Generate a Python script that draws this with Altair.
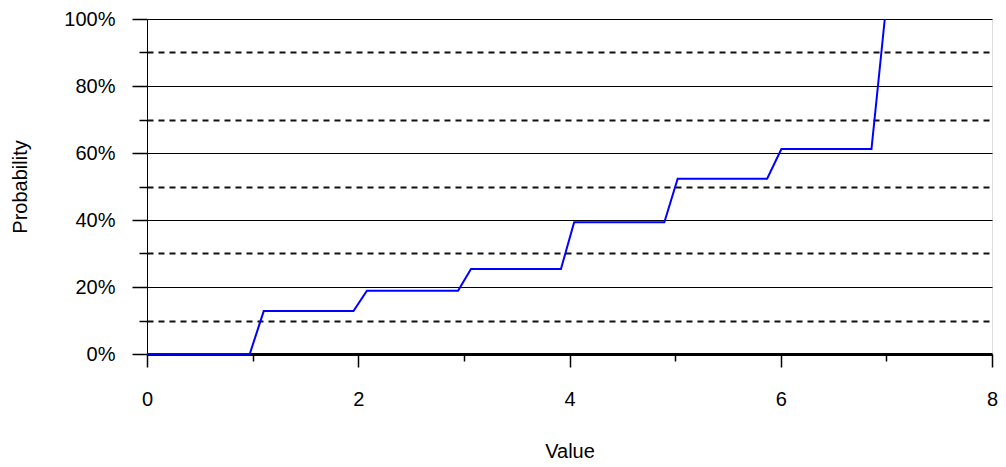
import altair as alt
import pandas as pd

# Step-shaped cumulative probability curve
x_vals = [0, 0.973, 1.105, 1.955, 2.082, 2.945, 3.067, 3.919, 4.044, 4.898, 5.024, 5.871, 6.006, 6.859, 6.985]
y_vals = [0, 0, 0.128, 0.128, 0.189, 0.189, 0.254, 0.254, 0.393, 0.393, 0.523, 0.523, 0.612, 0.612, 1.0]

major_x = [0, 2, 4, 6, 8]
minor_x = [1, 3, 5, 7]
major_y = [0, 0.2, 0.4, 0.6, 0.8, 1.0]
minor_y = [0.1, 0.3, 0.5, 0.7, 0.9]

df = pd.DataFrame({"Value": x_vals, "Probability": y_vals, "i": list(range(len(x_vals)))})

FONT = "Liberation Sans"
W, H = 845, 335

xscale = alt.Scale(domain=[0, 8], nice=False, zero=False)
yscale = alt.Scale(domain=[0, 1], nice=False)

line = alt.Chart(df).mark_line(color="#0000ff", strokeWidth=2).encode(
    x=alt.X("Value:Q", scale=xscale, axis=alt.Axis(
        values=major_x, format="d", orient="bottom", grid=False, labelFlush=False,
        domainColor="black", domainWidth=3, tickColor="black", tickSize=13, tickWidth=1.5,
        labelFont=FONT, labelFontSize=20, labelColor="black", labelPadding=22,
        title="Value", titleFont=FONT, titleFontSize=20, titleFontWeight="normal",
        titleColor="black", titleY=97, titleBaseline="middle")),
    y=alt.Y("Probability:Q", scale=yscale, axis=alt.Axis(
        values=major_y, format=".0%", orient="left", grid=True, labelFlush=False,
        gridColor="black", gridWidth=1, gridOpacity=1,
        domainColor="black", domainWidth=1, tickColor="black", tickSize=15, tickWidth=1.5,
        labelFont=FONT, labelFontSize=20, labelColor="black", labelPadding=17,
        title="Probability", titleFont=FONT, titleFontSize=20, titleFontWeight="normal",
        titleColor="black", titleX=-127, titleY=H / 2, titleAngle=-90,
        titleAlign="center", titleBaseline="middle")),
    order="i:Q",
)

minor = alt.Chart(df).mark_point(opacity=0).encode(
    x=alt.X("Value:Q", scale=xscale, axis=alt.Axis(
        values=minor_x, labels=False, title="", orient="bottom", domain=False, grid=False,
        tickColor="black", tickSize=7, tickWidth=1.5)),
    y=alt.Y("Probability:Q", scale=yscale, axis=alt.Axis(
        values=minor_y, labels=False, title="", orient="left", domain=False, grid=True,
        gridColor="#111111", gridWidth=2, gridDash=[6, 5], gridOpacity=1,
        tickColor="black", tickSize=8, tickWidth=1.5)),
)

chart = alt.layer(minor, line).resolve_axis(x="independent", y="independent").properties(
    width=W, height=H,
    autosize=alt.AutoSizeParams(type="none"),
    padding={"left": 139, "top": 11, "right": 6, "bottom": 110},
).configure_view(stroke="black", strokeWidth=1.5).configure(background="white")

chart.save("out.html", embed_options={"renderer": "svg", "actions": False})
